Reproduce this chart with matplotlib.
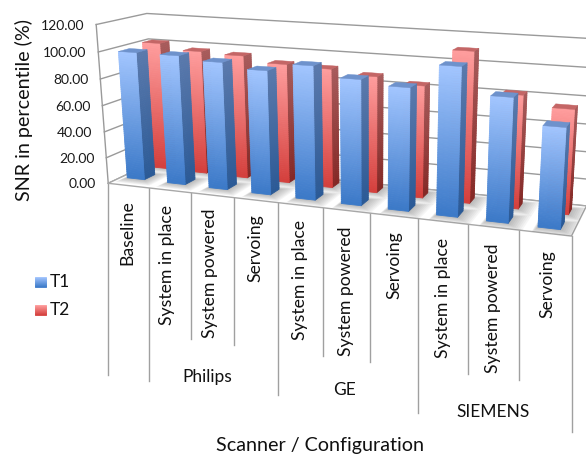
import numpy as np
import matplotlib
matplotlib.use('Agg')
import matplotlib.pyplot as plt
from matplotlib.collections import PolyCollection
from matplotlib.patches import Polygon

plt.rcParams['font.family'] = ['Lato', 'DejaVu Sans']

# Chart data
configs = ['Baseline', 'System in place', 'System powered', 'Servoing',
           'System in place', 'System powered', 'Servoing',
           'System in place', 'System powered', 'Servoing']
scanners = ['Philips', 'GE', 'SIEMENS']
t1_values = [98, 98, 95.5, 92, 98, 91, 88, 105, 87, 70]
t2_values = [100, 96, 95, 91, 90, 87, 83, 110, 82, 75]
y_ticks = [0, 20, 40, 60, 80, 100, 120]

# Camera: box corners (category, depth, value) and where they land in pixels
box_world = [(0, 0, 0), (0, 0, 120), (0, 1, 0), (0, 1, 120),
             (10, 0, 0), (10, 1, 0), (10, 1, 120)]
box_pixel = [(107, 181), (97, 26), (157, 163), (146, 12),
             (572, 237), (586, 205), (597, 39)]


def fit_camera(world, pixel):
    rows = []
    for (x, y, z), (px, py) in zip(world, pixel):
        rows.append([x, y, z, 1, 0, 0, 0, 0, -px * x, -px * y, -px * z, -px])
        rows.append([0, 0, 0, 0, x, y, z, 1, -py * x, -py * y, -py * z, -py])
    _, _, vt = np.linalg.svd(np.array(rows, dtype=float))
    return vt[-1].reshape(3, 4)


camera = fit_camera(box_world, box_pixel)


def project(x, y, z):
    p = camera @ np.array([x, y, z, 1.0])
    return p[0] / p[2], p[1] / p[2]


def mix(c1, c2, t):
    return tuple((1 - t) * a + t * b for a, b in zip(matplotlib.colors.to_rgb(c1), matplotlib.colors.to_rgb(c2)))


def gradient_face(ax, corners_top, corners_bottom, top_color, bottom_color, zorder, steps=60):
    # corners run along one horizontal edge, top and bottom; strips fake the gradient
    polys, colors = [], []
    for i in range(steps):
        t0, t1 = i / steps, (i + 1) / steps
        a = np.array(corners_top[0]) * (1 - t0) + np.array(corners_bottom[0]) * t0
        b = np.array(corners_top[1]) * (1 - t0) + np.array(corners_bottom[1]) * t0
        c = np.array(corners_top[1]) * (1 - t1) + np.array(corners_bottom[1]) * t1
        d = np.array(corners_top[0]) * (1 - t1) + np.array(corners_bottom[0]) * t1
        polys.append([a, b, c, d])
        colors.append(mix(top_color, bottom_color, (t0 + t1) / 2))
    ax.add_collection(PolyCollection(polys, facecolors=colors, edgecolors=colors, linewidths=0.6, zorder=zorder))


def draw_bar(ax, u0, u1, d0, d1, value, palette, zorder):
    front_top = [project(u0, d0, value), project(u1, d0, value)]
    front_bot = [project(u0, d0, 0), project(u1, d0, 0)]
    side_top = [project(u1, d0, value), project(u1, d1, value)]
    side_bot = [project(u1, d0, 0), project(u1, d1, 0)]
    gradient_face(ax, side_top, side_bot, palette['side_top'], palette['side_bot'], zorder)
    gradient_face(ax, front_top, front_bot, palette['front_top'], palette['front_bot'], zorder + 0.1)
    top = [project(u0, d0, value), project(u1, d0, value), project(u1, d1, value), project(u0, d1, value)]
    ax.add_patch(Polygon(top, closed=True, facecolor=palette['top'], edgecolor=palette['top'], linewidth=0.3, zorder=zorder + 0.2))


def draw_shadow(ax, u0, u1, d0, d1, floor_patch):
    # soft shadow: stacked footprints growing outward
    for grow in np.linspace(0.34, 0.02, 9):
        foot = [project(u0 - grow * 0.2, d0 - grow * 0.55, 0), project(u1 + grow, d0 - grow * 0.55, 0),
                project(u1 + grow, d1 + grow * 0.3, 0), project(u0 - grow * 0.2, d1 + grow * 0.3, 0)]
        s = Polygon(foot, closed=True, facecolor='#555555', edgecolor='none', alpha=0.055, zorder=2)
        ax.add_patch(s)
        s.set_clip_path(floor_patch)


blue = {'front_top': '#A3C6FF', 'front_bot': '#3B79C8', 'side_top': '#5B7AAD', 'side_bot': '#2B5A96', 'top': '#6E92CC'}
red = {'front_top': '#FF9E9E', 'front_bot': '#D43F3C', 'side_top': '#A85C5C', 'side_bot': '#842825', 'top': '#C46666'}

fig = plt.figure(figsize=(5.86, 4.55), dpi=100)
ax = fig.add_axes([0, 0, 1, 1])
ax.set_xlim(0, 586)
ax.set_ylim(455, 0)
ax.axis('off')

grid_color = '#9A9A9A'

# Wall gridlines
for v in y_ticks:
    left_front = project(0, 0, v)
    left_back = project(0, 1, v)
    right_back = project(10, 1, v)
    ax.plot([left_front[0], left_back[0], right_back[0]], [left_front[1], left_back[1], right_back[1]],
            color=grid_color, lw=1.0, zorder=1)

# Vertical axis edge
p0 = project(0, 0, 0)
p1 = project(0, 0, 120)
ax.plot([p0[0], p1[0]], [p0[1], p1[1]], color=grid_color, lw=1.0, zorder=1)

# Floor
floor_pts = [project(0, 0, 0), project(10, 0, 0), project(10, 1, 0), project(0, 1, 0)]
floor = Polygon(floor_pts, closed=True, facecolor='#FFFFFF', edgecolor='#A8A8A8', linewidth=1.0, zorder=1.5)
ax.add_patch(floor)

# Bar footprints in category / depth units, drifting slightly along the axis
spread = 1.018
bar_left = 0.15
bar_width = 0.43
depth_drift = 0.012
t1_depth = (0.26, 0.48)
t2_depth = (0.75, 0.95)


def footprint(i, depth):
    u0 = i * spread + bar_left
    return u0, u0 + bar_width, depth[0] - depth_drift * i, depth[1] - depth_drift * i


for i in range(len(configs)):
    u0, u1, d0, d1 = footprint(i, t2_depth)
    draw_shadow(ax, u0, u1, d0, d1, floor)
    u0, u1, d0, d1 = footprint(i, t1_depth)
    draw_shadow(ax, u0, u1, d0, d1, floor)

for i, v in enumerate(t2_values):
    u0, u1, d0, d1 = footprint(i, t2_depth)
    draw_bar(ax, u0, u1, d0, d1, v, red, 3 + i * 0.5)
for i, v in enumerate(t1_values):
    u0, u1, d0, d1 = footprint(i, t1_depth)
    draw_bar(ax, u0, u1, d0, d1, v, blue, 10 + i * 0.5)

# Y tick labels
for v in y_ticks:
    x, y = project(0, 0, v)
    ax.text(x - 12, y + 1, f'{v:.2f}', ha='right', va='center', fontsize=10, color='#1A1A1A')

# Category dividers hanging under the front edge
divider_y = [375, 381, 339, 345, 395, 356, 362, 413, 374, 380, 432]
for i, by in enumerate(divider_y):
    tx, ty = project(i, 0, 0)
    ax.plot([tx, tx], [ty, by], color='#A0A0A0', lw=1.0, zorder=1)

label_x = [127, 167, 210, 255, 300, 346, 394, 443, 493, 547]
label_y = [265, 325, 338, 282, 340, 356, 299, 358, 373, 318]
for name, lx, ly in zip(configs, label_x, label_y):
    ax.text(lx, ly, name, rotation=90, ha='center', va='bottom', fontsize=12.7, color='#111111')

group_x = [207, 345, 493]
group_y = [377, 390, 412]
for name, gx, gy in zip(scanners, group_x, group_y):
    ax.text(gx, gy, name, ha='center', va='center', fontsize=12.5, color='#111111')

ax.text(320, 446, 'Scanner / Configuration', ha='center', va='center', fontsize=14.2, color='#111111')
ax.text(24, 110, 'SNR in percentile (%)', rotation=90, ha='center', va='center', fontsize=14.2, color='#111111')

# Legend
for name, pal, ly in [('T1', blue, 282), ('T2', red, 310)]:
    gradient_face(ax, [(35, ly - 5), (46, ly - 5)], [(35, ly + 5), (46, ly + 5)], pal['front_top'], pal['front_bot'], 5, steps=10)
    ax.text(50, ly, name, ha='left', va='center', fontsize=12.5, color='#111111')

fig.savefig('out.png', dpi=100)
